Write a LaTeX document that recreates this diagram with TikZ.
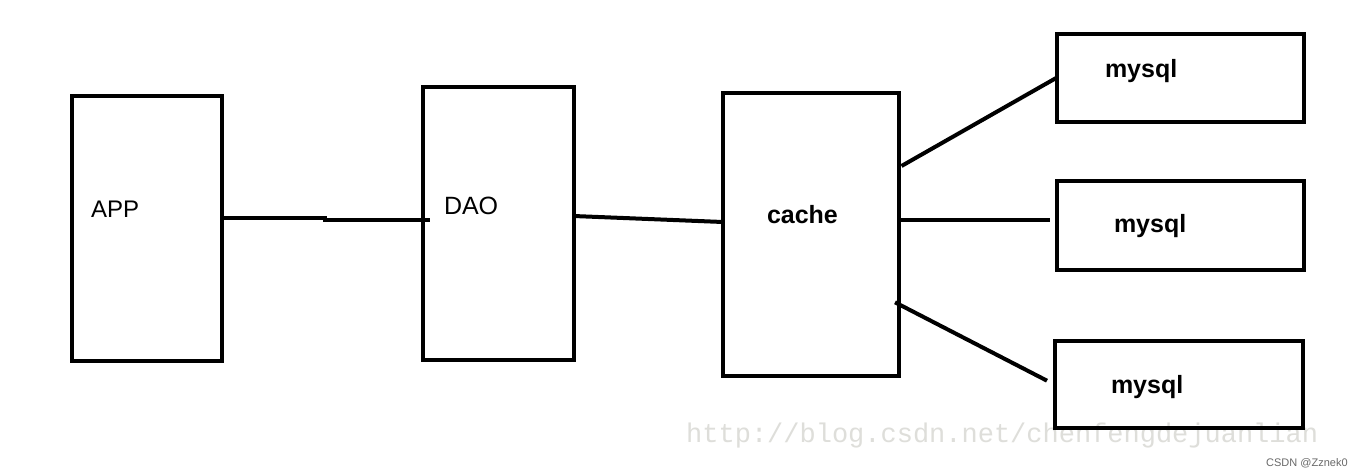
\documentclass[tikz,border=0pt]{standalone}
\usepackage{fontspec}
\setmainfont{Liberation Sans}
\newfontfamily\wmfont{Liberation Mono}
\definecolor{wmgray}{RGB}{222,222,218}
\definecolor{sggray}{RGB}{105,105,105}
\begin{document}
\begin{tikzpicture}[x=1pt,y=-1pt,
  boxnode/.style={draw=black,line width=4pt,rectangle,inner sep=0pt,outer sep=0pt},
  wire/.style={draw=black,line width=4pt},
  lbl/.style={anchor=base west,inner sep=0pt,outer sep=0pt,font=\fontsize{24}{28}\selectfont},
  blbl/.style={anchor=base west,inner sep=0pt,outer sep=0pt,font=\fontsize{25}{29}\selectfont\bfseries}]
\useasboundingbox[fill=white] (0,0) rectangle (1362,474);
% watermark
\node[anchor=base west,inner sep=0pt,text=wmgray,font=\wmfont\fontsize{27}{30}\selectfont] (wm) at (686,442) {http://blog.csdn.net/chenfengdejuanlian};
\node[anchor=base west,inner sep=0pt,text=sggray,font=\fontsize{11}{13}\selectfont] (sig) at (1266,466) {CSDN @Zznek0};
% boxes
\node[boxnode,minimum width=150pt,minimum height=265.5pt] (app) at (147,228.25) {};
\node[boxnode,minimum width=150.5pt,minimum height=273.5pt] (dao) at (498.25,223.25) {};
\node[boxnode,minimum width=175.5pt,minimum height=283pt] (cache) at (810.75,234) {};
\node[boxnode,minimum width=247pt,minimum height=88pt] (m1) at (1180.5,77.5) {};
\node[boxnode,minimum width=247pt,minimum height=88.5pt] (m2) at (1180.5,225.25) {};
\node[boxnode,minimum width=248pt,minimum height=87pt] (m3) at (1179,384) {};
% labels
\node[lbl] (tapp) at (91,217) {APP};
\node[lbl,font=\fontsize{25}{29}\selectfont] (tdao) at (444,214) {DAO};
\node[blbl] (tcache) at (767,223) {cache};
\node[blbl] (tm1) at (1105,77) {mysql};
\node[blbl] (tm2) at (1114,232) {mysql};
\node[blbl] (tm3) at (1111,393) {mysql};
% helper coordinates
\coordinate (k1) at (325,217.5);
\coordinate (k2) at (325,220);
\coordinate (k3) at (430,220);
\coordinate (d1) at (0,216);
\coordinate (d2) at (0,222);
\coordinate (s1) at (901.5,166);
\coordinate (s2) at (0,219.5);
\coordinate (e2) at (1050,219.5);
\coordinate (s3) at (895,302.3);
\coordinate (e3) at (1047,380.7);
% connectors
\draw[wire] (app.east |- k1) -- (k1) -- (k2) -- (k3);
\draw[wire] (dao.east |- d1) -- (cache.west |- d2);
\draw[wire] (s1) -- (m1.west);
\draw[wire] (cache.east |- s2) -- (e2);
\draw[wire] (s3) -- (e3);
\end{tikzpicture}
\end{document}
